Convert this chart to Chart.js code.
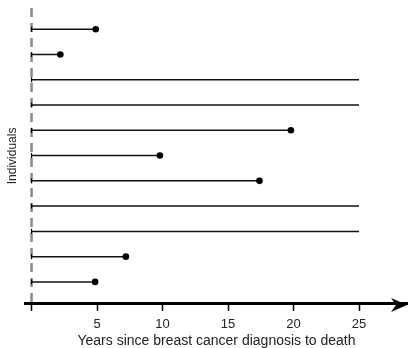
<!DOCTYPE html>
<html>
<head>
<meta charset="utf-8">
<script src="https://cdn.jsdelivr.net/npm/chart.js@4/dist/chart.umd.min.js"></script>
<style>
  html, body { margin: 0; padding: 0; background: #fff; }
</style>
</head>
<body>
<canvas id="swimChart" width="408" height="348"></canvas>
<script>
// one row per individual, top to bottom
const rowIds = [11, 10, 9, 8, 7, 6, 5, 4, 3, 2, 1];
const yearsFollowed = [4.9, 2.2, 25, 25, 19.8, 9.8, 17.4, 25, 25, 7.2, 4.85];
const died = [true, true, false, false, true, true, true, false, false, true, true];
const xTickValues = [0, 5, 10, 15, 20, 25];

const FONT = 'Liberation Sans, Arial, Helvetica, sans-serif';

// one line per individual
const datasets = rowIds.map((id, i) => ({
    data: [{x: 0, y: id}, {x: yearsFollowed[i], y: id}],
    borderColor: '#111',
    borderWidth: 1.5,
    pointStyle: ['line', 'circle'],
    rotation: [90, 0],
    pointRadius: [2.5, died[i] ? 3.3 : 0],
    pointBorderWidth: [1.2, 0],
    pointBackgroundColor: '#000',
    pointBorderColor: '#000',
    clip: false
}));

// dashed line at x=0 and the arrow head of the x axis
const axisDeco = {
    id: 'axisDeco',
    beforeDatasetsDraw(chart) {
        const c = chart.ctx;
        const x0 = chart.scales.x.getPixelForValue(0);
        c.save();
        c.strokeStyle = '#8a8a8a';
        c.lineWidth = 2.5;
        c.setLineDash([9, 6]);
        c.beginPath();
        c.moveTo(x0, chart.chartArea.top);
        c.lineTo(x0, chart.chartArea.bottom);
        c.stroke();
        c.restore();
    },
    afterDraw(chart) {
        const c = chart.ctx;
        const tipX = chart.width - 1;
        const y = chart.chartArea.bottom + 1;
        c.save();
        c.fillStyle = '#000';
        c.beginPath();
        c.moveTo(tipX, y);
        c.lineTo(tipX - 16, y - 7);
        c.lineTo(tipX - 11, y);
        c.lineTo(tipX - 16, y + 7);
        c.closePath();
        c.fill();
        c.restore();
    }
};

const ctx = document.getElementById('swimChart').getContext('2d');
const swimChart = new Chart(ctx, {
    type: 'line',
    data: {datasets: datasets},
    plugins: [axisDeco],
    options: {
        responsive: false,
        animation: false,
        events: [],
        layout: {autoPadding: false, padding: {top: 8, left: 0, right: 0, bottom: 0}},
        plugins: {legend: {display: false}, tooltip: {enabled: false}},
        scales: {
            x: {
                type: 'linear',
                min: -0.5,
                max: 28.74,
                afterBuildTicks: (scale) => {
                    scale.ticks = xTickValues.map(v => ({value: v}));
                },
                ticks: {
                    callback: (v) => v === 0 ? '' : v,
                    color: '#222',
                    font: {family: FONT, size: 13, lineHeight: 1},
                    padding: 6.6,
                    maxRotation: 0,
                    autoSkip: false
                },
                grid: {
                    display: true,
                    drawOnChartArea: false,
                    drawTicks: true,
                    tickLength: 7,
                    tickColor: '#000',
                    tickWidth: 1.5
                },
                border: {display: true, color: '#000', width: 3},
                title: {
                    display: true,
                    text: 'Years since breast cancer diagnosis to death',
                    color: '#222',
                    font: {family: FONT, size: 14, lineHeight: 1},
                    padding: {top: -3.1, bottom: 0}
                }
            },
            y: {
                type: 'linear',
                min: 0.13,
                max: 11.84,
                ticks: {display: false},
                grid: {display: false, drawTicks: false},
                border: {display: false},
                title: {
                    display: true,
                    text: 'Individuals',
                    color: '#222',
                    font: {family: FONT, size: 12},
                    padding: {top: 5, bottom: 5.6}
                }
            }
        }
    }
});
</script>
</body>
</html>
